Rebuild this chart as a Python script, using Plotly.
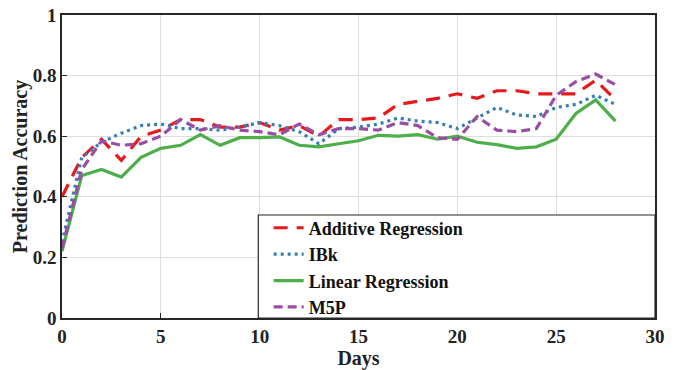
import plotly.graph_objects as go

days = list(range(0, 29))

additive_regression = [0.40, 0.53, 0.59, 0.52, 0.60, 0.62, 0.655, 0.655, 0.63, 0.63,
                       0.645, 0.62, 0.635, 0.60, 0.655, 0.655, 0.66, 0.705, 0.715, 0.725,
                       0.74, 0.725, 0.75, 0.75, 0.74, 0.74, 0.74, 0.785, 0.72]
ibk = [0.25, 0.53, 0.58, 0.61, 0.635, 0.64, 0.625, 0.625, 0.62, 0.63,
       0.645, 0.635, 0.615, 0.575, 0.625, 0.63, 0.64, 0.66, 0.65, 0.645,
       0.625, 0.66, 0.695, 0.67, 0.665, 0.695, 0.705, 0.735, 0.705]
linear_regression = [0.22, 0.47, 0.49, 0.465, 0.53, 0.56, 0.57, 0.605, 0.57, 0.595,
                     0.595, 0.598, 0.57, 0.565, 0.575, 0.585, 0.603, 0.60, 0.605, 0.59,
                     0.60, 0.58, 0.572, 0.56, 0.565, 0.59, 0.675, 0.72, 0.65]
m5p = [0.23, 0.49, 0.585, 0.57, 0.575, 0.60, 0.655, 0.62, 0.635, 0.62,
       0.615, 0.605, 0.64, 0.605, 0.625, 0.625, 0.62, 0.645, 0.635, 0.595,
       0.59, 0.665, 0.62, 0.615, 0.625, 0.735, 0.78, 0.805, 0.77]

series_names = ["Additive Regression", "IBk", "Linear Regression", "M5P"]
series_values = [additive_regression, ibk, linear_regression, m5p]
colors = ["#E41A1C", "#377EB8", "#4DAF4A", "#984EA3"]
dashes = ["14px,9px", "3px,4px", "solid", "9px,5px"]

x_ticks = [0, 5, 10, 15, 20, 25, 30]
y_ticks = [0, 0.2, 0.4, 0.6, 0.8, 1]
y_tick_labels = ["0", "0.2", "0.4", "0.6", "0.8", "1"]

fig = go.Figure()
for name, vals, c, d in zip(series_names, series_values, colors, dashes):
    fig.add_trace(go.Scatter(x=days, y=vals, mode="lines", name=name,
                             line=dict(color=c, width=3.2, dash=d)))

font_family = "Liberation Serif, Times New Roman, serif"
axis_common = dict(showline=True, linecolor="#262626", linewidth=1.5, mirror=True,
                   ticks="inside", ticklen=5, tickcolor="#262626", tickwidth=1.2,
                   showgrid=True, gridcolor="#DEDEDE", gridwidth=1, zeroline=False,
                   automargin=False,
                   tickfont=dict(family=font_family, size=19, color="#222", weight="bold"))

fig.update_layout(
    width=676, height=370,
    margin=dict(l=62, r=21, t=15, b=52),
    plot_bgcolor="white", paper_bgcolor="white",
    font=dict(family=font_family, color="#222"),
    xaxis=dict(range=[0, 30], tickvals=x_ticks,
               title=dict(text="Days", font=dict(family=font_family, size=20, weight="bold"), standoff=4),
               **axis_common),
    yaxis=dict(range=[0, 1], tickvals=y_ticks, ticktext=y_tick_labels,
               title=dict(text="Prediction Accuracy", font=dict(family=font_family, size=20, weight="bold"), standoff=0),
               **axis_common),
    legend=dict(x=0.3485, y=0.358, xanchor="left", yanchor="top",
                bgcolor="rgba(0,0,0,0)", borderwidth=0,
                font=dict(family=font_family, size=18, color="#111", weight="bold"),
                tracegroupgap=0, itemwidth=30),
    shapes=[dict(type="rect", xref="paper", yref="paper", x0=0.331, x1=1, y0=0, y1=0.34,
                 fillcolor="white", line=dict(color="#262626", width=1.2), layer="above")],
    showlegend=True,
)

fig.write_html("out.html", config={"displayModeBar": False},
               post_script="document.body.style.margin='0';")
